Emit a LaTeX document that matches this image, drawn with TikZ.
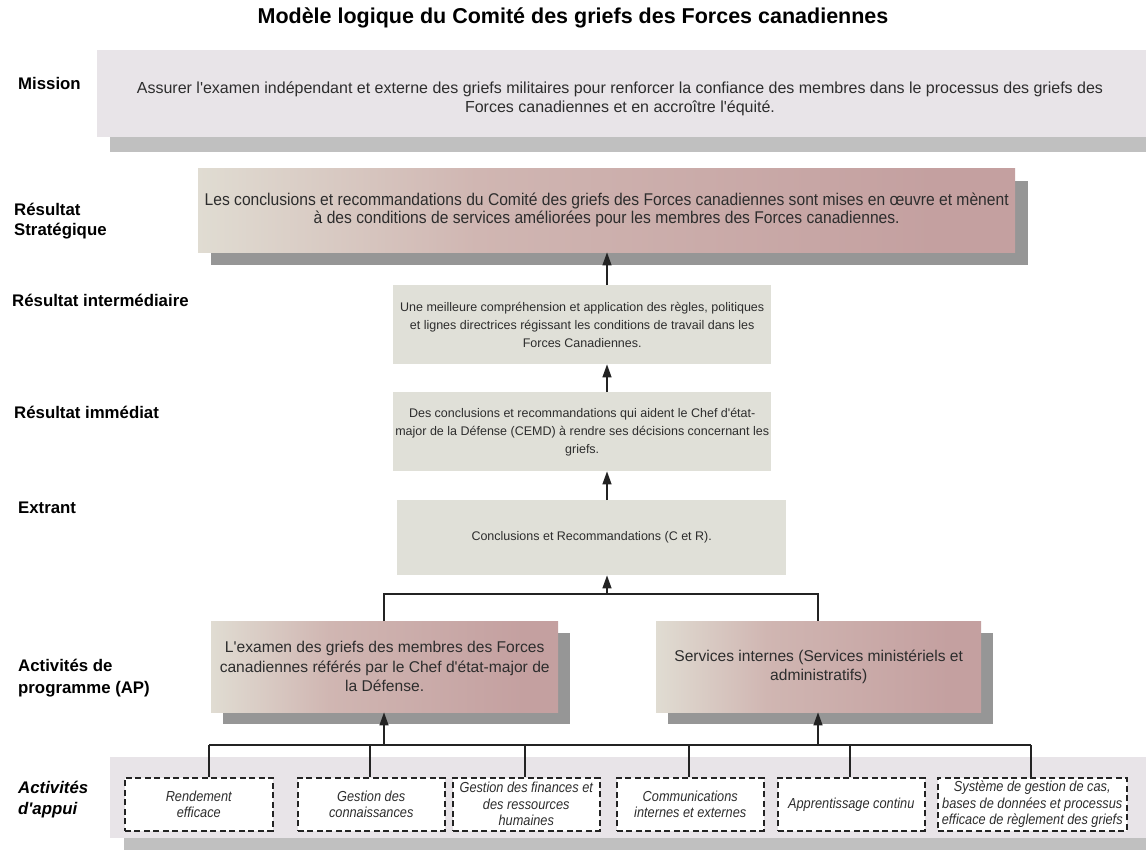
\documentclass[tikz,border=0pt]{standalone}
\usepackage{fontspec}
\setmainfont{Liberation Sans}
\newfontfamily\narrowfont[FakeStretch=0.92]{Liberation Sans}
\newfontfamily\narrowitfont[FakeStretch=0.88]{Liberation Sans}
\usetikzlibrary{arrows.meta,shadows}
\newcommand{\aq}{\textquotesingle}
\definecolor{missionfill}{RGB}{232,228,232}
\definecolor{lightshadow}{RGB}{192,192,192}
\definecolor{darkshadow}{RGB}{150,150,150}
\definecolor{greyfill}{RGB}{224,224,216}
\definecolor{roseA}{RGB}{224,220,210}
\definecolor{roseM}{RGB}{208,182,178}
\definecolor{roseB}{RGB}{196,160,160}
\definecolor{textgray}{RGB}{45,45,45}
\definecolor{linegray}{RGB}{35,35,35}
\pgfdeclarehorizontalshading{roseshade}{100bp}{color(0bp)=(roseA); color(25bp)=(roseA); color(42bp)=(roseM); color(70bp)=(roseB); color(100bp)=(roseB)}
\begin{document}
\begin{tikzpicture}[x=1pt,y=-1pt,
  lbl/.style={anchor=west,align=left,font=\bfseries\fontsize{16.8}{20}\selectfont,text=black,inner sep=0pt},
  boxbase/.style={anchor=north west,inner sep=0pt,align=center,text=textgray},
  rosebox/.style={boxbase,shading=roseshade},
  greybox/.style={boxbase,fill=greyfill,font=\fontsize{12.5}{18}\selectfont},
  dashbox/.style={boxbase,fill=white,draw=linegray,dashed,dash pattern=on 6pt off 3.5pt,line width=1.5pt,
     font=\narrowitfont\itshape\fontsize{14.5}{16.5}\selectfont,minimum height=53pt},
  conn/.style={draw=linegray,line width=1.3pt},
  arr/.style={conn,-{Triangle[length=13pt,width=9pt]}},
]
\useasboundingbox (0,0) rectangle (1146,852);
\fill[white] (0,0) rectangle (1146,852);

% title
\node[font=\bfseries\fontsize{21.5}{25}\selectfont] (title) at (573,18) {Modèle logique du Comité des griefs des Forces canadiennes};

% left labels
\node[lbl] (lmission) at (18,83) {Mission};
\node[lbl,font=\bfseries\fontsize{16.8}{19.5}\selectfont] (lstrat) at (14,221) {Résultat\\Stratégique};
\node[lbl] (linter) at (12,300) {Résultat intermédiaire};
\node[lbl] (limm) at (14,412) {Résultat immédiat};
\node[lbl] (lextr) at (18,508) {Extrant};
\node[lbl,font=\bfseries\fontsize{16.8}{22}\selectfont] (lap) at (18,678) {Activités de\\programme (AP)};
\node[lbl,font=\bfseries\itshape\fontsize{16.8}{21}\selectfont] (lappui) at (18,800) {Activités\\d\aq appui};

% mission
\node[boxbase,fill=missionfill,minimum width=1049pt,minimum height=87pt,
  general shadow={fill=lightshadow,shadow xshift=13pt,shadow yshift=-15pt}] (mission) at (97,50) {};
\node[align=center,text=textgray,inner sep=0pt,font=\fontsize{16}{18.5}\selectfont] (missiontxt) at (620,99)
  {Assurer l\aq examen indépendant et externe des griefs militaires pour renforcer la confiance des membres dans le processus des griefs des\\Forces canadiennes et en accroître l\aq équité.};

% strategic
\node[rosebox,minimum width=817pt,minimum height=84pt,
  general shadow={fill=darkshadow,shadow xshift=13pt,shadow yshift=-13pt},
  font=\narrowfont\fontsize{17}{18.5}\selectfont] (strat) at (198,168)
  {Les conclusions et recommandations du Comité des griefs des Forces canadiennes sont mises en œuvre et mènent\\à des conditions de services améliorées pour les membres des Forces canadiennes.};

% intermediate
\node[greybox,minimum width=378pt,minimum height=79pt] (inter) at (393,285)
  {Une meilleure compréhension et application des règles, politiques\\et lignes directrices régissant les conditions de travail dans les\\Forces Canadiennes.};

% immediate
\node[greybox,minimum width=378pt,minimum height=79pt] (imm) at (393,392)
  {Des conclusions et recommandations qui aident le Chef d\aq état-\\major de la Défense (CEMD) à rendre ses décisions concernant les\\griefs.};

% extrant
\node[greybox,minimum width=389pt,minimum height=75pt] (extr) at (397,500)
  {Conclusions et Recommandations (C et R).};

% program activities
\node[rosebox,minimum width=347pt,minimum height=91pt,
  general shadow={fill=darkshadow,shadow xshift=12pt,shadow yshift=-12pt},
  font=\fontsize{15.6}{19.5}\selectfont] (prog) at (211,621)
  {L\aq examen des griefs des membres des Forces\\canadiennes référés par le Chef d\aq état-major de\\la Défense.};
\node[rosebox,minimum width=325pt,minimum height=91pt,
  general shadow={fill=darkshadow,shadow xshift=12pt,shadow yshift=-12pt},
  font=\fontsize{15.6}{19.5}\selectfont] (serv) at (656,621)
  {Services internes (Services ministériels et\\administratifs)};

% bottom band
\node[boxbase,fill=missionfill,minimum width=1036pt,minimum height=81pt,
  general shadow={fill=lightshadow,shadow xshift=14pt,shadow yshift=-12pt}] (band) at (110,757) {};

% dashed boxes
\node[dashbox,minimum width=148pt] (d1) at (124,777) {Rendement\\efficace};
\node[dashbox,minimum width=147pt] (d2) at (297,777) {Gestion des\\connaissances};
\node[dashbox,minimum width=147pt] (d3) at (452,777) {Gestion des finances et\\des ressources\\humaines};
\node[dashbox,minimum width=147pt] (d4) at (616,777) {Communications\\internes et externes};
\node[dashbox,minimum width=147pt] (d5) at (777,777) {Apprentissage continu};
\node[dashbox,minimum width=189pt] (d6) at (937,777) {Système de gestion de cas,\\bases de données et processus\\efficace de règlement des griefs};

% connectors between the upper boxes
\coordinate (ax) at (607,0);
\draw[arr] (inter.north -| ax) -- (strat.south -| ax);
\draw[arr] (imm.north -| ax) -- (inter.south -| ax);
\draw[arr] (extr.north -| ax) -- (imm.south -| ax);

% upper bus
\coordinate (t1) at (384,594);
\coordinate (tm) at (607,594);
\coordinate (t2) at (818,594);
\draw[conn] (prog.north -| t1) -- (t1) -- (t2) -- (serv.north -| t2);
\draw[arr] (tm) -- (extr.south -| tm);

% lower bus
\coordinate (b1) at (209,745);
\coordinate (b2) at (370,745);
\coordinate (b3) at (525,745);
\coordinate (b4) at (689,745);
\coordinate (b5) at (850,745);
\coordinate (b6) at (1031,745);
\coordinate (pa) at (384,745);
\coordinate (sa) at (818,745);
\draw[conn] (b1) -- (b6);
\draw[conn] (b1) -- (b1 |- d1.north);
\draw[conn] (b2) -- (b2 |- d2.north);
\draw[conn] (b3) -- (b3 |- d3.north);
\draw[conn] (b4) -- (b4 |- d4.north);
\draw[conn] (b5) -- (b5 |- d5.north);
\draw[conn] (b6) -- (b6 |- d6.north);
\draw[arr] (pa) -- (pa |- prog.south);
\draw[arr] (sa) -- (sa |- serv.south);
\end{tikzpicture}
\end{document}
